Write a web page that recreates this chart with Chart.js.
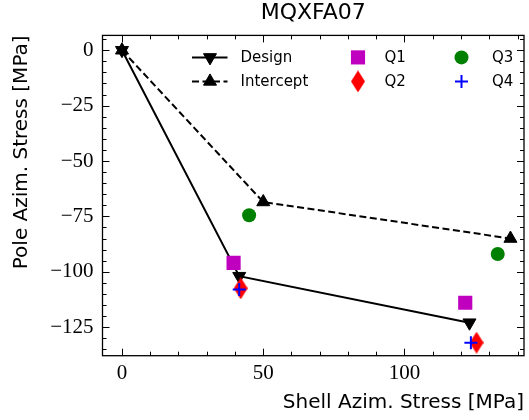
<!DOCTYPE html>
<html>
<head>
<meta charset="utf-8">
<script src="https://cdn.jsdelivr.net/npm/chart.js@4/dist/chart.umd.min.js"></script>
<style>
  html, body { margin: 0; padding: 0; background: #fff; }
  #wrap { width: 529px; height: 420px; position: relative; }
</style>
</head>
<body>
<div id="wrap"><canvas id="chart"></canvas></div>
<script>
// values (MPa)
const designX = [0, 41.5, 123];
const designY = [0, -102, -123];
const interceptX = [0, 50, 137.5];
const interceptY = [0, -68.5, -85];
const q1X = [39.5, 121.5];
const q1Y = [-96, -114];
const q2X = [42, 125.5];
const q2Y = [-107.5, -132];
const q3X = [45, 133];
const q3Y = [-74.5, -92];
const q4X = [41.5, 123.5];
const q4Y = [-108, -132];

const xLabel = "Shell Azim. Stress [MPa]";
const yLabel = "Pole Azim. Stress [MPa]";
const chartTitle = "MQXFA07";

function toPoints(xs, ys) {
  return xs.map((x, i) => ({ x: x, y: ys[i] }));
}

// matplotlib style thin diamond, no built-in Chart.js equivalent
function thinDiamond(color, w, h) {
  const c = document.createElement("canvas");
  c.width = w;
  c.height = h;
  const g = c.getContext("2d");
  g.fillStyle = color;
  g.beginPath();
  g.moveTo(w / 2, 0);
  g.lineTo(w, h / 2);
  g.lineTo(w / 2, h);
  g.lineTo(0, h / 2);
  g.closePath();
  g.fill();
  return c;
}
const diamondRed = thinDiamond("#ff0000", 14, 22);

function minusSign(v) {
  return String(v).replace("-", "\u2212");
}

// ticks pointing inward on all four sides + full frame
const frameTicks = {
  id: "frameTicks",
  afterDraw(chart) {
    const { ctx, chartArea: a, scales } = chart;
    const x = scales.x, y = scales.y;
    ctx.save();
    ctx.strokeStyle = "#000";
    ctx.lineWidth = 1;
    ctx.beginPath();
    x.ticks.forEach((t) => {
      const px = Math.round(x.getPixelForValue(t.value)) + 0.5;
      const len = Math.abs(t.value % 50) < 1e-6 ? 7 : 4;
      ctx.moveTo(px, a.bottom);
      ctx.lineTo(px, a.bottom - len);
      ctx.moveTo(px, a.top);
      ctx.lineTo(px, a.top + len);
    });
    y.ticks.forEach((t) => {
      const py = Math.round(y.getPixelForValue(t.value)) + 0.5;
      const len = Math.abs(t.value % 25) < 1e-6 ? 7 : 4;
      ctx.moveTo(a.left, py);
      ctx.lineTo(a.left + len, py);
      ctx.moveTo(a.right, py);
      ctx.lineTo(a.right - len, py);
    });
    ctx.stroke();
    ctx.lineWidth = 1.3;
    ctx.strokeRect(a.left, a.top, a.right - a.left, a.bottom - a.top);
    ctx.restore();
  },
};

// legend inside the axes, 3 columns x 2 rows filled column by column
const insideLegend = {
  id: "insideLegend",
  afterDraw(chart) {
    const { ctx, chartArea: a } = chart;
    const ds = chart.data.datasets;
    const rows = [a.top + 22, a.top + 46];
    const cols = [
      { marker: a.left + 107.5, text: a.left + 138, line: [a.left + 89.5, a.left + 125] },
      { marker: a.left + 255.5, text: a.left + 282 },
      { marker: a.left + 359, text: a.left + 389.5 },
    ];
    ctx.save();
    ctx.font = "15px 'DejaVu Sans'";
    ctx.textBaseline = "middle";
    ctx.textAlign = "left";
    ds.forEach((d, i) => {
      const col = cols[Math.floor(i / 2)];
      const yy = rows[i % 2];
      if (col.line) {
        ctx.strokeStyle = d.borderColor;
        ctx.lineWidth = d.borderWidth;
        ctx.setLineDash(d.borderDash || []);
        ctx.beginPath();
        ctx.moveTo(col.line[0], yy);
        ctx.lineTo(col.line[1], yy);
        ctx.stroke();
        ctx.setLineDash([]);
      }
      ctx.fillStyle = d.pointBackgroundColor;
      ctx.strokeStyle = d.pointBorderColor;
      ctx.lineWidth = d.pointBorderWidth;
      Chart.helpers.drawPoint(ctx, {
        pointStyle: d.pointStyle,
        rotation: d.pointRotation || 0,
        radius: d.pointRadius,
        borderWidth: d.pointBorderWidth,
      }, col.marker, yy);
      ctx.fillStyle = "#000";
      ctx.fillText(d.label, col.text, yy + 1);
    });
    ctx.restore();
  },
};

Chart.defaults.font.family = "'DejaVu Sans'";
Chart.defaults.color = "#000";

const ctx = document.getElementById("chart").getContext("2d");
const stressChart = new Chart(ctx, {
  type: "scatter",
  data: {
    datasets: [
      {
        label: "Design",
        data: toPoints(designX, designY),
        showLine: true,
        borderColor: "#000",
        borderWidth: 2,
        pointStyle: "triangle",
        pointRotation: 180,
        pointRadius: 7.5,
        pointBackgroundColor: "#000",
        pointBorderColor: "#000",
        pointBorderWidth: 1,
        order: 6,
      },
      {
        label: "Intercept",
        data: toPoints(interceptX, interceptY),
        showLine: true,
        borderColor: "#000",
        borderWidth: 2,
        borderDash: [7, 3.5],
        pointStyle: "triangle",
        pointRadius: 7.5,
        pointBackgroundColor: "#000",
        pointBorderColor: "#000",
        pointBorderWidth: 1,
        order: 5,
      },
      {
        label: "Q1",
        data: toPoints(q1X, q1Y),
        pointStyle: "rect",
        pointRadius: 10,
        pointBackgroundColor: "#bf00bf",
        pointBorderColor: "#bf00bf",
        pointBorderWidth: 0,
        order: 4,
      },
      {
        label: "Q2",
        data: toPoints(q2X, q2Y),
        pointStyle: diamondRed,
        pointRadius: 10,
        pointBackgroundColor: "#ff0000",
        pointBorderColor: "#ff0000",
        pointBorderWidth: 0,
        order: 3,
      },
      {
        label: "Q3",
        data: toPoints(q3X, q3Y),
        pointStyle: "circle",
        pointRadius: 7,
        pointBackgroundColor: "#008000",
        pointBorderColor: "#008000",
        pointBorderWidth: 0,
        order: 2,
      },
      {
        label: "Q4",
        data: toPoints(q4X, q4Y),
        pointStyle: "cross",
        pointRadius: 6.5,
        pointBackgroundColor: "#0000ff",
        pointBorderColor: "#0000ff",
        pointBorderWidth: 2,
        order: 1,
      },
    ],
  },
  options: {
    responsive: true,
    maintainAspectRatio: false,
    animation: false,
    layout: { autoPadding: false, padding: { left: 0, right: 5, top: 0, bottom: 0 } },
    plugins: {
      legend: { display: false },
      tooltip: { enabled: false },
      title: {
        display: true,
        text: chartTitle,
        fullSize: false,
        font: { size: 22, weight: "normal" },
        padding: { top: 0, bottom: 9 },
      },
    },
    scales: {
      x: {
        type: "linear",
        min: -6.9,
        max: 142.3,
        grid: { display: false, drawTicks: false },
        border: { display: false },
        ticks: {
          stepSize: 10,
          autoSkip: false,
          includeBounds: false,
          maxRotation: 0,
          padding: 5,
          font: { family: "'Liberation Serif'", size: 21 },
          callback: (v) => (v % 50 === 0 ? minusSign(v) : ""),
        },
        title: {
          display: true,
          text: xLabel,
          align: "end",
          font: { size: 20 },
          padding: { top: 0, bottom: 5 },
        },
        afterFit: (s) => { s.height = 64.3; },
      },
      y: {
        type: "linear",
        min: -137.9,
        max: 6.7,
        grid: { display: false, drawTicks: false },
        border: { display: false },
        ticks: {
          stepSize: 5,
          autoSkip: false,
          includeBounds: false,
          padding: 9,
          font: { family: "'Liberation Serif'", size: 21 },
          callback: (v) => (v % 25 === 0 ? minusSign(v) : ""),
        },
        title: {
          display: true,
          text: yLabel,
          align: "end",
          font: { size: 20 },
          padding: { top: 10, bottom: 0 },
        },
        afterFit: (s) => { s.width = 102.5; },
      },
    },
  },
  plugins: [frameTicks, insideLegend],
});
</script>
</body>
</html>
